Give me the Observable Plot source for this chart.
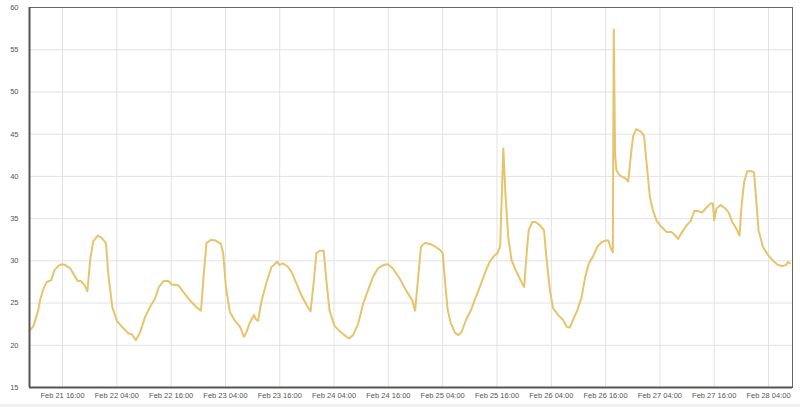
<!DOCTYPE html>
<html>
<head>
<meta charset="utf-8">
<script src="https://cdn.jsdelivr.net/npm/d3@7"></script>
<script src="https://cdn.jsdelivr.net/npm/@observablehq/plot@0.6"></script>
<style>
  html, body { margin: 0; padding: 0; background: #fff; }
  #strip { height: 3px; background: #f1f1f1; }
</style>
</head>
<body>
<div id="chart"></div>
<div id="strip"></div>
<script>
// Hours relative to Feb 21 16:00
const hours = [
  -7.2, -6.4, -5.4, -4.9, -4.2, -3.5, -2.5, -1.8, -0.9, -0.15, 0.6, 1.7, 2.8, 3.4, 4.1, 4.9, 5.5, 6.1, 6.8, 7.8,
  8.7, 9.6, 10.1, 11.0, 12.0, 13.1, 14.6, 15.3, 16.2, 17.1, 18.2, 19.3, 20.4, 21.3, 22.3, 23.4, 24.1, 25.6, 26.7, 28.2,
  29.6, 30.6, 31.1, 31.8, 32.8, 33.8, 35.0, 35.5, 36.1, 37.0, 38.1, 39.2, 40.1, 40.6, 41.4, 42.3, 42.7, 43.2, 44.0, 45.1,
  46.2, 46.9, 47.4, 47.9, 48.7, 49.8, 50.6, 51.7, 52.8, 54.0, 54.8, 55.4, 56.1, 56.8, 57.7, 58.3, 59.0, 60.1, 61.2, 62.3,
  63.3, 64.2, 65.3, 66.4, 67.5, 68.6, 69.7, 70.9, 71.9, 73.0, 74.5, 75.9, 77.3, 77.9, 78.5, 79.2, 80.1, 81.2, 82.3, 83.4,
  84.0, 84.5, 85.1, 85.8, 86.7, 87.5, 88.2, 89.3, 90.3, 91.1, 92.2, 93.3, 94.4, 95.4, 96.1, 96.7, 97.4, 97.9, 98.5, 99.2,
  100.3, 101.4, 102.0, 102.5, 103.0, 103.8, 104.5, 105.5, 106.4, 106.9, 107.7, 108.4, 109.5, 110.6, 111.4, 112.1, 112.8, 113.8, 114.7, 115.5,
  116.3, 117.2, 118.2, 119.1, 119.9, 120.6, 121.2, 121.6, 121.8, 122.1, 122.4, 123.2, 124.3, 125.0, 125.6, 126.1, 126.8, 127.8, 128.5, 129.0,
  129.8, 130.5, 131.3, 132.4, 133.5, 134.6, 135.4, 136.0, 136.9, 137.9, 138.8, 139.6, 140.4, 141.3, 142.1, 143.2, 143.7, 144.0, 144.5, 145.4,
  146.5, 147.2, 147.9, 148.9, 149.6, 150.0, 150.6, 151.3, 152.2, 152.8, 153.3, 153.8, 154.8, 155.9, 157.0, 158.1, 159.2, 159.9, 160.3, 160.7
];
const values = [
  21.75, 22.3, 24.1, 25.5, 26.7, 27.5, 27.7, 28.9, 29.4, 29.6, 29.5, 29.1, 28.1, 27.6, 27.6, 27.1, 26.4, 30.1, 32.3, 33.0,
  32.7, 32.1, 28.5, 24.5, 22.9, 22.2, 21.4, 21.3, 20.6, 21.5, 23.3, 24.5, 25.5, 26.9, 27.6, 27.6, 27.2, 27.1, 26.3, 25.3,
  24.5, 24.1, 27.7, 32.1, 32.5, 32.4, 32.0, 30.9, 26.9, 23.9, 22.9, 22.2, 21.0, 21.5, 22.7, 23.6, 23.1, 22.9, 25.3, 27.5,
  29.3, 29.6, 29.9, 29.5, 29.7, 29.3, 28.7, 27.3, 25.9, 24.7, 24.0, 26.9, 30.9, 31.2, 31.2, 27.7, 24.1, 22.3, 21.7, 21.2,
  20.8, 21.2, 22.5, 24.9, 26.5, 28.1, 29.1, 29.5, 29.6, 29.1, 27.9, 26.5, 25.3, 24.1, 27.5, 31.7, 32.1, 32.0, 31.7, 31.3,
  30.9, 27.7, 24.2, 22.6, 21.5, 21.2, 21.6, 23.2, 24.2, 25.4, 26.9, 28.5, 29.9, 30.6, 30.9, 31.7, 43.3, 37.6, 32.8, 30.1,
  28.7, 27.5, 26.9, 30.5, 33.6, 34.6, 34.6, 34.2, 33.6, 30.5, 26.5, 24.4, 23.6, 23.0, 22.2, 22.1, 23.0, 24.2, 25.7, 28.1,
  29.7, 30.5, 31.7, 32.2, 32.4, 32.4, 31.4, 31.0, 57.4, 42.6, 40.7, 40.1, 39.8, 39.4, 42.6, 44.8, 45.6, 45.3, 44.8, 41.9,
  37.5, 35.9, 34.7, 34.0, 33.4, 33.4, 33.0, 32.6, 33.4, 34.2, 34.7, 35.9, 35.9, 35.7, 36.2, 36.8, 36.8, 34.8, 36.2, 36.6,
  36.2, 35.7, 34.7, 33.8, 33.0, 36.3, 39.3, 40.6, 40.6, 40.5, 37.1, 33.6, 31.6, 30.7, 30.0, 29.5, 29.4, 29.5, 29.9, 29.7
];
const tickTimes = [
  "2024-02-21T16:00Z", "2024-02-22T04:00Z", "2024-02-22T16:00Z", "2024-02-23T04:00Z", "2024-02-23T16:00Z",
  "2024-02-24T04:00Z", "2024-02-24T16:00Z", "2024-02-25T04:00Z", "2024-02-25T16:00Z", "2024-02-26T04:00Z",
  "2024-02-26T16:00Z", "2024-02-27T04:00Z", "2024-02-27T16:00Z", "2024-02-28T04:00Z"
];
const yTicks = [15, 20, 25, 30, 35, 40, 45, 50, 55, 60];

const base = Date.UTC(2024, 1, 21, 16);
const H = 3600e3;
const data = hours.map((h, i) => ({ t: new Date(base + h * H), v: values[i] }));
const ticks = tickTimes.map(s => new Date(s));
const x0 = new Date(base - 7.3 * H), x1 = new Date(base + 161.3 * H);

const chart = Plot.plot({
  width: 800,
  height: 404,
  marginLeft: 29,
  marginRight: 8,
  marginTop: 7,
  marginBottom: 17,
  style: { fontFamily: "'Liberation Sans', Arial, sans-serif", fontSize: "7.5px", color: "#666", background: "#fff" },
  x: { type: "utc", domain: [x0, x1], label: null },
  y: { domain: [15, 60], label: null },
  marks: [
    Plot.gridX(ticks, { stroke: "#e2e2e2", strokeOpacity: 1 }),
    Plot.gridY(yTicks, { stroke: "#e2e2e2", strokeOpacity: 1 }),
    Plot.line(data, { x: "t", y: "v", stroke: "#e6c46c", strokeWidth: 2 }),
    Plot.frame({ stroke: "#666", strokeWidth: 1 }),
    Plot.ruleX([x0], { stroke: "#555", strokeWidth: 2 }),
    Plot.ruleY([15], { stroke: "#555", strokeWidth: 2 }),
    Plot.axisX(ticks, { tickSize: 0, tickPadding: 5, label: null, tickFormat: d3.utcFormat("%b %d %H:%M"), fill: "#555" }),
    Plot.axisY(yTicks, { tickSize: 0, tickPadding: 11, label: null, fill: "#555" })
  ]
});
document.getElementById("chart").appendChild(chart);
</script>
</body>
</html>
